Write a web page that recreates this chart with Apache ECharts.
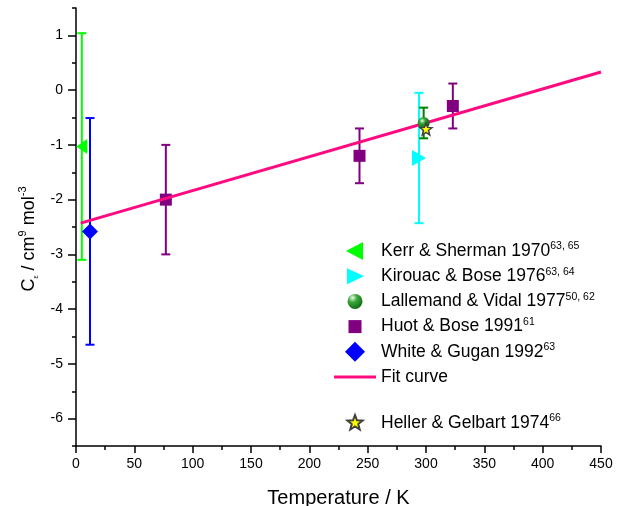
<!DOCTYPE html>
<html>
<head>
<meta charset="utf-8">
<script src="https://cdn.jsdelivr.net/npm/echarts@6/dist/echarts.min.js"></script>
<style>html,body{margin:0;padding:0;background:#fff;}#c{width:625px;height:506px;}</style>
</head>
<body>
<div id="c"></div>
<script>
// ---- data ----
var kerrX = [5],   kerrY = [-1.03],  kerrErr = [2.07];
var kirouacX = [294], kirouacY = [-1.24], kirouacErr = [1.19];
var lallemandX = [298], lallemandY = [-0.60], lallemandErr = [0.28];
var huotX = [77, 243, 323], huotY = [-2.0, -1.2, -0.29], huotErr = [1.0, 0.5, 0.41];
var whiteX = [12], whiteY = [-2.58], whiteErr = [2.07];
var hellerX = [300], hellerY = [-0.71];
var fitX = [4, 450], fitY = [-2.43, 0.33];
var yTickLabels = [-6, -5, -4, -3, -2, -1, 0, 1];
var yMinorTicks = [-6.5, -5.5, -4.5, -3.5, -2.5, -1.5, -0.5, 0.5, 1.5];
var names = ['Kerr & Sherman 1970', 'Kirouac & Bose 1976', 'Lallemand & Vidal 1977',
             'Huot & Bose 1991', 'White & Gugan 1992', 'Fit curve', 'Heller & Gelbart 1974'];
var refs = {'Kerr & Sherman 1970': '63, 65', 'Kirouac & Bose 1976': '63, 64',
            'Lallemand & Vidal 1977': '50, 62', 'Huot & Bose 1991': '61',
            'White & Gugan 1992': '63', 'Heller & Gelbart 1974': '66'};

function zip(xs, ys, es) { return xs.map(function (x, i) { return es ? [x, ys[i], es[i]] : [x, ys[i]]; }); }

function starPath(cx, cy, R, r) {
  var p = [];
  for (var k = 0; k < 10; k++) {
    var a = (-90 + k * 36) * Math.PI / 180, rad = k % 2 ? r : R;
    p.push((k ? 'L' : 'M') + (cx + rad * Math.cos(a)).toFixed(3) + ',' + (cy + rad * Math.sin(a)).toFixed(3));
  }
  return p.join(' ') + ' Z';
}
var BOX = 'M0,0 M20,20 ';
var sym = {
  left: 'path://M11,0 L11,15 L0,7.5 Z',
  right: 'path://M0,0 L14,8 L0,16 Z',
  star: 'path://' + starPath(10, 10, 10, 4.2)
};
var icon = {
  left: 'path://' + BOX + 'M18,1 L18,19 L1,10 Z',
  right: 'path://' + BOX + 'M2,2 L19,10 L2,18 Z',
  sphere: 'path://' + BOX + 'M2.5,10 A7.5,7.5 0 1 1 17.5,10 A7.5,7.5 0 1 1 2.5,10 Z',
  square: 'path://' + BOX + 'M3.5,3.5 L16.5,3.5 L16.5,16.5 L3.5,16.5 Z',
  diamond: 'path://M10,0 L20,10 L10,20 L0,10 Z',
  star: 'path://' + BOX + starPath(10, 10, 8, 3.4),
  line: 'path://M0,0 M42,20 M0,8.5 L42,8.5 L42,11.5 L0,11.5 Z'
};
var sphereColor = {type: 'radial', x: 0.38, y: 0.32, r: 0.75,
  colorStops: [{offset: 0, color: '#eaffea'}, {offset: 0.3, color: '#3aa83a'}, {offset: 1, color: '#004d00'}]};

function errSeries(data, color, lw) {
  return {
    type: 'custom', silent: true, clip: false, z: 2,
    data: data, encode: {x: 0, y: 1},
    renderItem: function (params, api) {
      var x = api.value(0), y = api.value(1), e = api.value(2);
      var t = api.coord([x, y + e]), b = api.coord([x, y - e]), hw = 4.5;
      var st = {stroke: color, lineWidth: lw};
      return {type: 'group', children: [
        {type: 'line', shape: {x1: t[0], y1: t[1], x2: b[0], y2: b[1]}, style: st},
        {type: 'line', shape: {x1: t[0] - hw, y1: t[1], x2: t[0] + hw, y2: t[1]}, style: st},
        {type: 'line', shape: {x1: b[0] - hw, y1: b[1], x2: b[0] + hw, y2: b[1]}, style: st}
      ]};
    }
  };
}

var FONT = 'Liberation Sans';
var legendText = {
  fontFamily: FONT, fontSize: 17.5, color: '#000',
  rich: {
    m: {fontFamily: FONT, fontSize: 17.5, color: '#000', lineHeight: 20},
    s: {fontFamily: FONT, fontSize: 10.5, color: '#000', lineHeight: 10, verticalAlign: 'top'}
  }
};
function legendFmt(n) { return refs[n] ? '{m|' + n + '}{s|' + refs[n] + '}' : '{m|' + n + '}'; }

var chart = echarts.init(document.getElementById('c'), null, {renderer: 'canvas'});
chart.setOption({
  animation: false,
  backgroundColor: '#fff',
  grid: {left: 76, right: 24, top: 8, bottom: 60, containLabel: false, outerBoundsMode: 'none'},
  xAxis: {
    type: 'value', min: 0, max: 450, interval: 50,
    name: 'Temperature / K', nameLocation: 'middle', nameGap: 42,
    nameTextStyle: {fontFamily: FONT, fontSize: 20, color: '#000'},
    axisLine: {onZero: false, lineStyle: {color: '#000', width: 1.5}},
    axisTick: {length: 7, lineStyle: {color: '#000', width: 1.5}},
    minorTick: {show: true, splitNumber: 2, length: 4, lineStyle: {color: '#000', width: 1.5}},
    axisLabel: {fontFamily: FONT, fontSize: 14, color: '#000', margin: 11},
    splitLine: {show: false}
  },
  yAxis: [{
    type: 'value', min: -6.5, max: 1.5,
    name: '{i|C}{sub|ε}{n| / cm}{sup|9}{n| mol}{sup|-3}',
    nameLocation: 'middle', nameGap: 36, nameRotate: 90,
    nameTextStyle: {
      fontFamily: FONT, fontSize: 17, color: '#000', padding: [0, 24, 0, 0],
      rich: {
        i: {fontFamily: FONT, fontSize: 18, color: '#000', lineHeight: 22},
        n: {fontFamily: FONT, fontSize: 18, color: '#000', lineHeight: 22},
        sub: {fontFamily: FONT, fontSize: 7, color: '#000', lineHeight: 8, verticalAlign: 'bottom'},
        sup: {fontFamily: FONT, fontSize: 11, color: '#000', lineHeight: 11, verticalAlign: 'top'}
      }
    },
    axisLine: {onZero: false, lineStyle: {color: '#000', width: 1.5}},
    axisTick: {length: 8, customValues: yTickLabels, lineStyle: {color: '#000', width: 1.5}},
    axisLabel: {fontFamily: FONT, fontSize: 14, color: '#000', margin: 13, customValues: yTickLabels},
    splitLine: {show: false}
  }, {
    type: 'value', min: -6.5, max: 1.5, position: 'left',
    axisLine: {show: false, onZero: false},
    axisTick: {length: 4, customValues: yMinorTicks, lineStyle: {color: '#000', width: 1.5}},
    axisLabel: {show: false},
    splitLine: {show: false}
  }],
  legend: [{
    orient: 'vertical', left: 334, top: 241, padding: 0,
    itemWidth: 42, itemHeight: 20, itemGap: 5.2, itemTextGap: 4, selectedMode: false,
    textStyle: legendText, formatter: legendFmt,
    data: [
      {name: names[0], icon: icon.left},
      {name: names[1], icon: icon.right},
      {name: names[2], icon: icon.sphere},
      {name: names[3], icon: icon.square},
      {name: names[4], icon: icon.diamond},
      {name: names[5], icon: icon.line}
    ]
  }, {
    orient: 'vertical', left: 344, top: 412, padding: 0,
    itemWidth: 42, itemHeight: 20, itemTextGap: 4, selectedMode: false,
    textStyle: legendText, formatter: legendFmt,
    data: [{name: names[6], icon: icon.star}]
  }],
  series: [
    errSeries(zip(kerrX, kerrY, kerrErr), '#00ff00', 2),
    errSeries(zip(kirouacX, kirouacY, kirouacErr), '#00ffff', 2),
    errSeries(zip(lallemandX, lallemandY, lallemandErr), '#008000', 2),
    errSeries(zip(huotX, huotY, huotErr), '#800080', 2),
    errSeries(zip(whiteX, whiteY, whiteErr), '#0000ff', 2),
    {name: names[0], type: 'scatter', z: 3, symbol: sym.left, symbolSize: [11, 15],
     itemStyle: {color: '#00ff00', opacity: 1}, data: zip(kerrX, kerrY)},
    {name: names[1], type: 'scatter', z: 3, symbol: sym.right, symbolSize: [14, 16],
     itemStyle: {color: '#00ffff', opacity: 1}, data: zip(kirouacX, kirouacY)},
    {name: names[3], type: 'scatter', z: 3, symbol: 'rect', symbolSize: 12,
     itemStyle: {color: '#800080', opacity: 1}, data: zip(huotX, huotY)},
    {name: names[4], type: 'scatter', z: 3, symbol: 'diamond', symbolSize: [16, 16],
     itemStyle: {color: '#0000ff', opacity: 1}, data: zip(whiteX, whiteY)},
    {name: names[5], type: 'line', z: 4, symbol: 'none', silent: true,
     lineStyle: {color: '#ff0a80', width: 3}, itemStyle: {color: '#ff0a80'},
     data: zip(fitX, fitY)},
    {name: names[2], type: 'scatter', z: 5, symbol: 'circle', symbolSize: 12,
     itemStyle: {color: sphereColor, opacity: 1}, data: zip(lallemandX, lallemandY)},
    {name: names[6], type: 'scatter', z: 6, symbol: sym.star, symbolSize: 12,
     itemStyle: {color: '#ffff00', borderColor: '#404040', borderWidth: 1.5, opacity: 1},
     data: zip(hellerX, hellerY)}
  ]
});
</script>
</body>
</html>
